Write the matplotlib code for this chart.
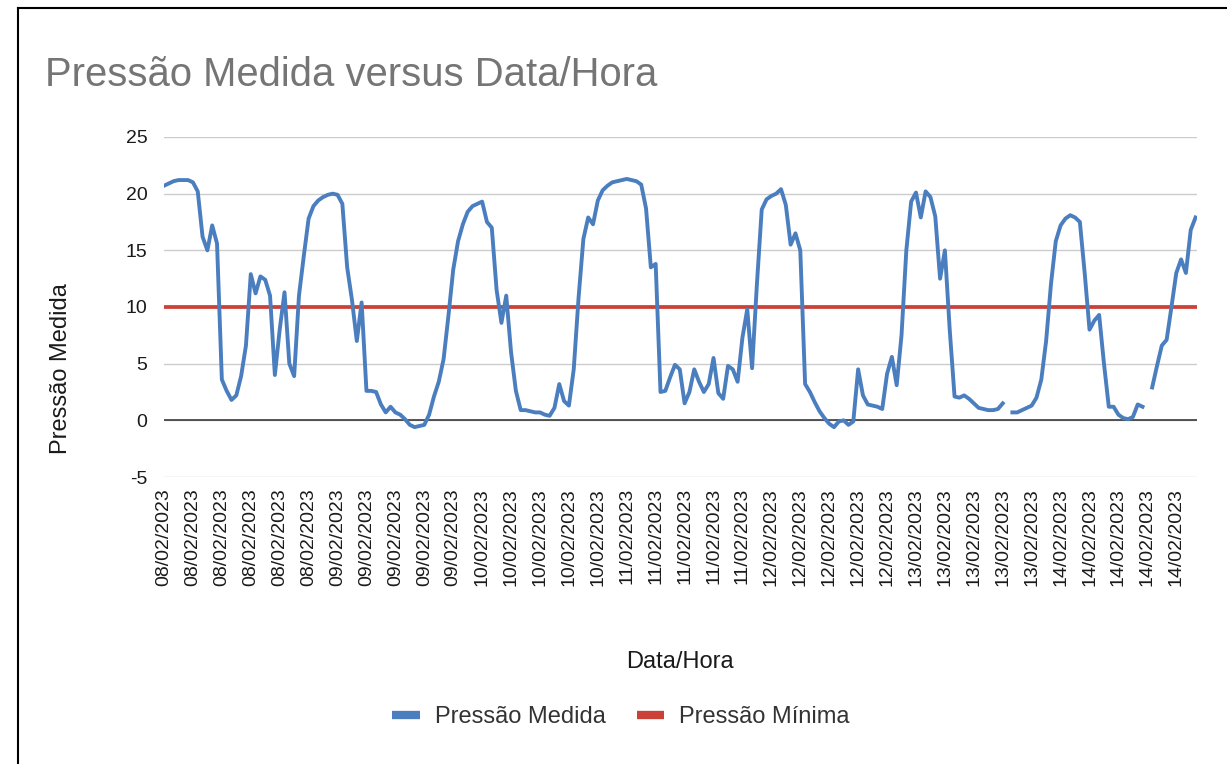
import numpy as np
import matplotlib
matplotlib.use("Agg")
import matplotlib.pyplot as plt
from matplotlib.lines import Line2D

plt.rcParams['font.family'] = ['Liberation Sans', 'DejaVu Sans']
plt.rcParams['axes.unicode_minus'] = False

# dados (amostras igualmente espacadas)
pressao_medida = [
    20.7, 20.9, 21.1, 21.2, 21.2, 21.2, 21.0, 20.2, 16.2, 15.0,
    17.2, 15.6, 3.6, 2.6, 1.8, 2.2, 3.9, 6.6, 12.9, 11.2,
    12.7, 12.4, 11.0, 4.0, 8.0, 11.3, 5.0, 3.9, 11.0, 14.5,
    17.8, 18.9, 19.4, 19.7, 19.9, 20.0, 19.9, 19.1, 13.5, 10.6,
    7.0, 10.4, 2.6, 2.6, 2.5, 1.4, 0.7, 1.2, 0.7, 0.5,
    0.1, -0.4, -0.6, -0.5, -0.4, 0.5, 2.1, 3.4, 5.4, 9.2,
    13.3, 15.8, 17.3, 18.4, 18.9, 19.1, 19.3, 17.5, 17.0, 11.5,
    8.6, 11.0, 6.0, 2.6, 0.9, 0.9, 0.8, 0.7, 0.7, 0.5,
    0.4, 1.1, 3.2, 1.7, 1.3, 4.5, 10.8, 16.0, 17.9, 17.3,
    19.4, 20.3, 20.7, 21.0, 21.1, 21.2, 21.3, 21.2, 21.1, 20.8,
    18.7, 13.5, 13.8, 2.5, 2.6, 3.8, 4.9, 4.5, 1.5, 2.5,
    4.5, 3.4, 2.5, 3.2, 5.5, 2.4, 1.9, 4.8, 4.5, 3.4,
    7.3, 9.8, 4.6, 12.0, 18.6, 19.5, 19.8, 20.0, 20.4, 19.0,
    15.5, 16.5, 15.0, 3.2, 2.5, 1.6, 0.8, 0.2, -0.3, -0.6,
    -0.1, 0.0, -0.4, -0.1, 4.5, 2.2, 1.4, 1.3, 1.2, 1.0,
    4.1, 5.6, 3.1, 7.5, 15.0, 19.3, 20.1, 17.9, 20.2, 19.7,
    18.0, 12.5, 15.0, 8.0, 2.1, 2.0, 2.2, 1.9, 1.5, 1.1,
    1.0, 0.9, 0.9, 1.0, 1.5, np.nan, 0.7, 0.7, 0.9, 1.1,
    1.3, 2.0, 3.6, 7.0, 12.0, 15.8, 17.2, 17.8, 18.1, 17.9,
    17.5, 13.0, 8.0, 8.8, 9.3, 5.0, 1.2, 1.2, 0.5, 0.2,
    0.1, 0.3, 1.4, 1.2, np.nan, 2.9, 4.8, 6.6, 7.1, 10.0,
    13.0, 14.2, 13.0, 16.8, 17.9,
]
pressao_minima = 10.0

dias = ['08/02/2023', '09/02/2023', '10/02/2023', '11/02/2023',
        '12/02/2023', '13/02/2023', '14/02/2023']
rotulos_por_dia = [6, 5, 5, 5, 5, 5, 5]
passo_rotulo = 6

tick_labels = [d for d, n in zip(dias, rotulos_por_dia) for _ in range(n)]

W, H = 1227, 764
fig = plt.figure(figsize=(W / 100, H / 100), dpi=100)
ax = fig.add_axes([164 / W, 1 - 477 / H, (1197 - 164) / W, (477 - 137) / H])

x = np.arange(len(pressao_medida))
azul = '#4a7ebf'
vermelho = '#cc4137'

ax.axhline(0, color='#3a3a3a', lw=1.2, zorder=2)
ax.plot(x, np.full(len(x), pressao_minima), color=vermelho, lw=2.7, zorder=3)
ax.plot(x, pressao_medida, color=azul, lw=2.8, zorder=4,
        solid_joinstyle='round')

ax.set_xlim(0, len(x) - 1 + 0.3)
ax.set_ylim(-5, 25)
ax.set_yticks(range(-5, 30, 5))
ax.yaxis.grid(True, color='#cccccc', lw=1)
ax.set_axisbelow(True)
for s in ax.spines.values():
    s.set_visible(False)

ax.set_xticks(x[::passo_rotulo][:len(tick_labels)])
ax.set_xticklabels(tick_labels, rotation=90, fontsize=14, color='#1a1a1a')
ax.tick_params(axis='x', length=0, pad=8)
ax.tick_params(axis='y', length=0, pad=12, labelsize=14, labelcolor='#1a1a1a')

fig.text(45 / W, 1 - 75 / H, 'Pressão Medida versus Data/Hora', fontsize=28.8,
         color='#757575', ha='left', va='center')
fig.text(61 / W, 1 - 369 / H, 'Pressão Medida', fontsize=17, rotation=90,
         ha='center', va='center', color='#1a1a1a')
fig.text(680 / W, 1 - 662 / H, 'Data/Hora', fontsize=17,
         ha='center', va='center', color='#1a1a1a')

handles = [Line2D([], [], color=azul, lw=6, solid_capstyle='butt'),
           Line2D([], [], color=vermelho, lw=6, solid_capstyle='butt')]
fig.legend(handles, ['Pressão Medida', 'Pressão Mínima'], loc='center',
           bbox_to_anchor=(621 / W, 1 - 717 / H), ncol=2, frameon=False,
           fontsize=17, handlelength=1.15, handletextpad=0.65,
           columnspacing=1.3, labelcolor='#333333')

# moldura (so as bordas esquerda e superior aparecem no recorte)
fig.add_artist(Line2D([18 / W, 18 / W], [0, 1 - 8 / H], transform=fig.transFigure,
                      color='black', lw=1.5))
fig.add_artist(Line2D([18 / W, 1], [1 - 8 / H, 1 - 8 / H], transform=fig.transFigure,
                      color='black', lw=1.5))

fig.savefig('out.png', dpi=100, facecolor='white')
